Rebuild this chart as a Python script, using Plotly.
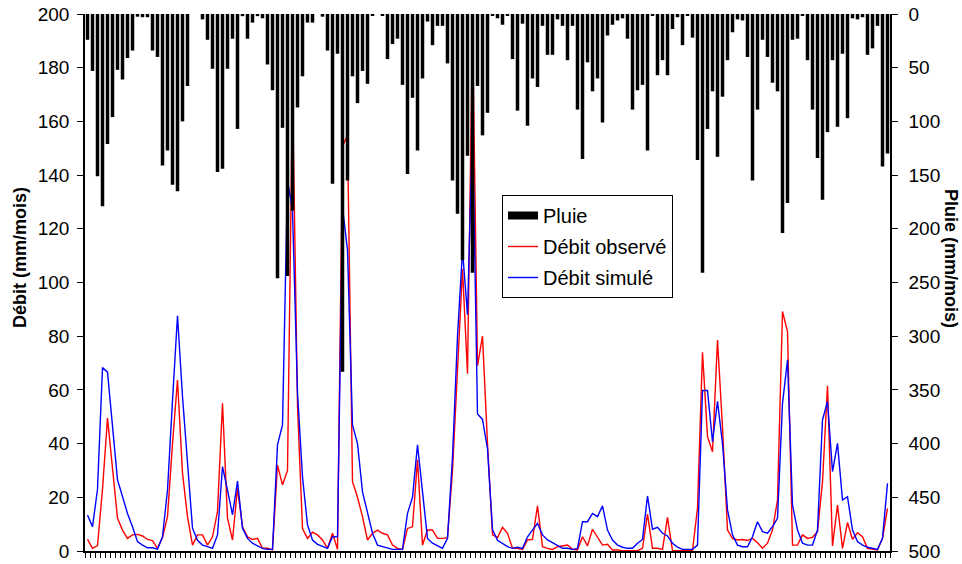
import plotly.graph_objects as go

# Monthly series (161 months)
pluie = [24, 53, 151, 179, 121, 96, 52, 61, 41, 34, 2.5, 3, 3, 34, 40, 141, 127, 159, 165, 100,
         67, 0, 0, 5, 24, 51, 147, 144, 51, 23, 107, 2, 23, 8, 2, 4, 47, 71, 246, 106,
         244, 183, 87, 58, 8, 8, 0, 2.5, 34, 158, 37, 333, 155, 58, 83, 53, 65, 1, 0, 1,
         42, 28, 23, 66, 149, 78, 127, 60, 7, 29, 11, 11, 46, 155, 186, 229, 132, 241, 67, 113,
         92, 1, 4, 10, 1, 42, 90, 9, 104, 60, 68, 11, 38, 38, 5, 11, 43, 11, 89, 135,
         45, 72, 60, 101, 20, 10, 6, 4, 23, 89, 71, 66, 127, 1, 57, 43, 57, 14, 3, 29,
         1, 22, 136, 241, 107, 72, 133, 77, 43, 17, 5, 6, 40, 155, 89, 24, 40, 64, 72, 204,
         176, 24, 23, 1, 43, 89, 134, 173, 110, 43, 105, 37, 97, 4, 5, 3, 38, 32, 11, 142,
         130]

debit_obs = [4.3, 1, 2, 23, 49.5, 30.8, 12.2, 7.8, 4.7, 6, 6.2, 5.6, 4.3, 3.9, 1, 5, 12.8, 40, 63.7, 29,
             12.8, 2.2, 6, 6, 2.2, 5.3, 14.7, 55, 12.2, 4.1, 23.4, 9, 5.3, 4.3, 4.7, 1, 1, 0.4, 32, 24.6,
             30, 172, 54, 8.4, 4.7, 7, 6, 4.1, 1, 6.6, 0.6, 150.6, 155, 25.8, 20, 12.8, 4.1, 6.6, 7.8, 6.6,
             6, 2.2, 1, 0.6, 8.4, 9, 34, 2.2, 7.8, 7.8, 4.7, 4.7, 5, 30, 70, 105, 66, 196, 69, 80,
             40, 6, 5, 8.8, 6.6, 1, 1, 0.6, 4.1, 4.3, 16.8, 1.6, 1, 0.6, 1.6, 1.9, 2.2, 0.6, 0.4, 5.3,
             1.9, 8.1, 5.3, 2.2, 2.5, 0.4, 0.4, 0.1, 0.1, 0.1, 0.1, 1, 13.7, 1, 1, 0.6, 12.5, 0.1, 0.1, 0.1,
             0.1, 0.1, 16, 74, 42.6, 37, 78.6, 46, 7.8, 4.7, 4.1, 4.3, 3.9, 4.7, 3.1, 1, 2.9, 7.8, 19, 89.2,
             81.7, 2.2, 2.2, 6, 4.7, 5.1, 7.2, 25.8, 61.5, 1.9, 17.1, 1, 10.6, 4.3, 6.8, 5.3, 1, 0.6, 0.4, 4.7,
             15.9]

debit_sim = [13.4, 9, 23, 68.3, 66.6, 46.8, 26.5, 20.3, 14, 9, 3.5, 2.2, 1.2, 1.2, 0.7, 5.3, 22.7, 56, 87.6, 57.5,
             34, 8.5, 4, 2.2, 1.6, 1, 6, 31.4, 22.7, 13.5, 26, 8.5, 4.7, 2.9, 1.9, 1, 0.6, 0.6, 39.5, 47,
             138, 127, 59, 27.6, 9.7, 4.1, 2.5, 1.6, 1, 5.3, 5.3, 128, 112, 47, 40, 22, 14, 6.6, 2.2, 1.6,
             1, 0.6, 0.6, 0.6, 14, 20, 39.5, 22, 4.7, 2.9, 1.9, 1, 4.7, 35, 80, 112, 88, 159, 51, 49,
             38, 8, 4, 2.9, 1.6, 1, 1.4, 1, 5.3, 7.8, 10.3, 6, 4.1, 3.1, 1.9, 1, 1, 0.6, 1, 10.9,
             10.9, 14, 12.8, 16.8, 7.8, 4.1, 2.2, 1.4, 1, 1, 2.9, 4.3, 20.5, 8.1, 8.8, 6.6, 5.6, 2.9, 1.4, 0.6,
             0.6, 0.6, 2.2, 59.8, 59.8, 40.7, 55.7, 40, 15.3, 6, 2.2, 1.6, 1.6, 5.3, 10.9, 7.2, 6.6, 9.1, 12.2, 55,
             71.2, 17.1, 7.8, 2.9, 2.2, 2.2, 7.8, 48.8, 55.7, 29.6, 40.1, 19, 20.2, 7.8, 3.5, 2.2, 1.4, 1, 0.6, 4.7,
             25.2]

mois = list(range(len(pluie)))

FONT = "Liberation Sans, Arial, sans-serif"
L, R, T, B = 85, 890, 14, 551          # plot area edges in pixels
PW, PH = R - L, B - T

fig = go.Figure()

# Legend-only entry giving the rain series a wide black swatch
fig.add_trace(go.Scatter(x=[None], y=[None], mode="lines", name="Pluie",
                         line=dict(color="black", width=8), legendgroup="a"))

fig.add_trace(go.Scatter(x=mois, y=debit_obs, mode="lines", name="Débit observé",
                         line=dict(color="#FF0000", width=1.4), legendgroup="b"))
fig.add_trace(go.Scatter(x=mois, y=debit_sim, mode="lines", name="Débit simulé",
                         line=dict(color="#0000FF", width=1.4), legendgroup="c"))

# Rain bars hang from the top on the reversed secondary axis
fig.add_trace(go.Bar(x=mois, y=pluie, yaxis="y2", marker=dict(color="black", line=dict(width=0)),
                     showlegend=False, name="Pluie"))

axis_common = dict(showgrid=False, zeroline=False, showline=True, linecolor="black",
                   linewidth=1.5, ticks="outside", tickcolor="black", automargin=False)

fig.update_layout(
    template="none",
    width=962, height=564,
    margin=dict(l=L, r=962 - R, t=T, b=564 - B, pad=0, autoexpand=False),
    paper_bgcolor="white", plot_bgcolor="white",
    font=dict(family=FONT, size=19, color="black"),
    bargap=0.3,
    showlegend=True,
    legend=dict(x=(502 - L) / PW, y=(B - 195) / PH, xanchor="left", yanchor="top",
                bgcolor="white", bordercolor="black", borderwidth=1,
                font=dict(family=FONT, size=20, color="black"),
                tracegroupgap=2, itemwidth=30),
    xaxis=dict(range=[-0.5, len(pluie) - 0.5], ticklen=5, tickwidth=1,
               tick0=-0.5, dtick=1, showticklabels=False, **axis_common),
    yaxis=dict(range=[0, 200], dtick=20, ticklen=6, ticklabelstandoff=4,
               tickfont=dict(family=FONT, size=19), **axis_common),
    yaxis2=dict(range=[500, 0], dtick=50, overlaying="y", side="right", ticklen=6,
                ticklabelstandoff=7, tickfont=dict(family=FONT, size=19), **axis_common),
    annotations=[
        dict(text="<b>Débit (mm/mois)</b>", xref="paper", yref="paper",
             x=(20 - L) / PW, y=(B - 258) / PH, xanchor="center", yanchor="middle",
             showarrow=False, textangle=-90,
             font=dict(family=FONT, size=18, color="black")),
        dict(text="<b>Pluie (mm/mois)</b>", xref="paper", yref="paper",
             x=(951 - L) / PW, y=(B - 258) / PH, xanchor="center", yanchor="middle",
             showarrow=False, textangle=90,
             font=dict(family=FONT, size=18, color="black")),
    ],
)

fig.write_html("out.html")
